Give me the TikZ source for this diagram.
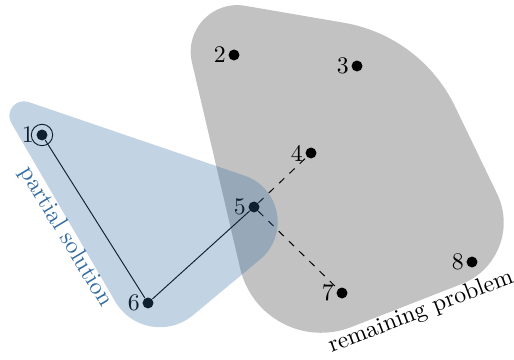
\documentclass[tikz,border=0pt]{standalone}
\usepackage{tikz}
\usetikzlibrary{positioning}
\definecolor{solblue}{RGB}{52,108,162}

\begin{document}
\begin{tikzpicture}[x=0.42pt, y=-0.42pt,
    every label/.style={inner sep=0.8pt},
    vertex/.style={circle, fill=black, inner sep=0pt, minimum size=4.6pt},
    tour/.style={draw=black, line width=0.4pt},
    open/.style={draw=black, line width=0.4pt, dashed},
    remaining/.style={fill=black!24},
    partial/.style={fill=solblue, fill opacity=0.3}]

\useasboundingbox (0,0) rectangle (514,360);

% remaining problem
\fill[remaining] (245,5.8) -- (344.1,22.8)
    .. controls (392.3,31.1) and (433.6,62.2) .. (454.9,106.3)
    -- (497.2,194)
    .. controls (513.8,228.5) and (497.5,269.9) .. (461.9,283.9)
    -- (351.4,327)
    .. controls (304.2,345.5) and (251.7,317.9) .. (240.2,268.5)
    -- (191.9,62.2)
    .. controls (184.4,29.9) and (212.3,0.2) .. (245,5.8) -- cycle;

\node[vertex, label=left:1] (v1) at (42,135) {};
\node[vertex, label=left:2] (v2) at (234,55) {};
\node[vertex, label=left:3] (v3) at (357,66) {};
\node[vertex, label=left:4] (v4) at (311,153) {};
\node[vertex, label=left:5] (v5) at (254,207) {};
\node[vertex, label=left:6] (v6) at (148,303) {};
\node[vertex, label=left:7] (v7) at (342,293) {};
\node[vertex, label=left:8] (v8) at (472,262) {};
\draw[tour] (v1.center) circle [radius=4.5pt];

\draw[tour] (v1) -- (v6) -- (v5);
\draw[open] (v5) -- (v4);
\draw[open] (v5) -- (v7);

% partial solution
\fill[partial] (28.7,102.1) -- (244.7,175.7)
    .. controls (280.7,188.1) and (289.3,235.2) .. (260,259.5)
    -- (192.8,315.4)
    .. controls (168.2,335.7) and (131.2,329.1) .. (115.2,301.5)
    -- (11.3,123)
    .. controls (4.6,111.4) and (15.9,97.7) .. (28.7,102.1) -- cycle;

\node[text=solblue, rotate=-59] (ptext) at (66,237) {partial solution};
\node[rotate=21] (rtext) at (421,312) {remaining problem};
\end{tikzpicture}
\end{document}
